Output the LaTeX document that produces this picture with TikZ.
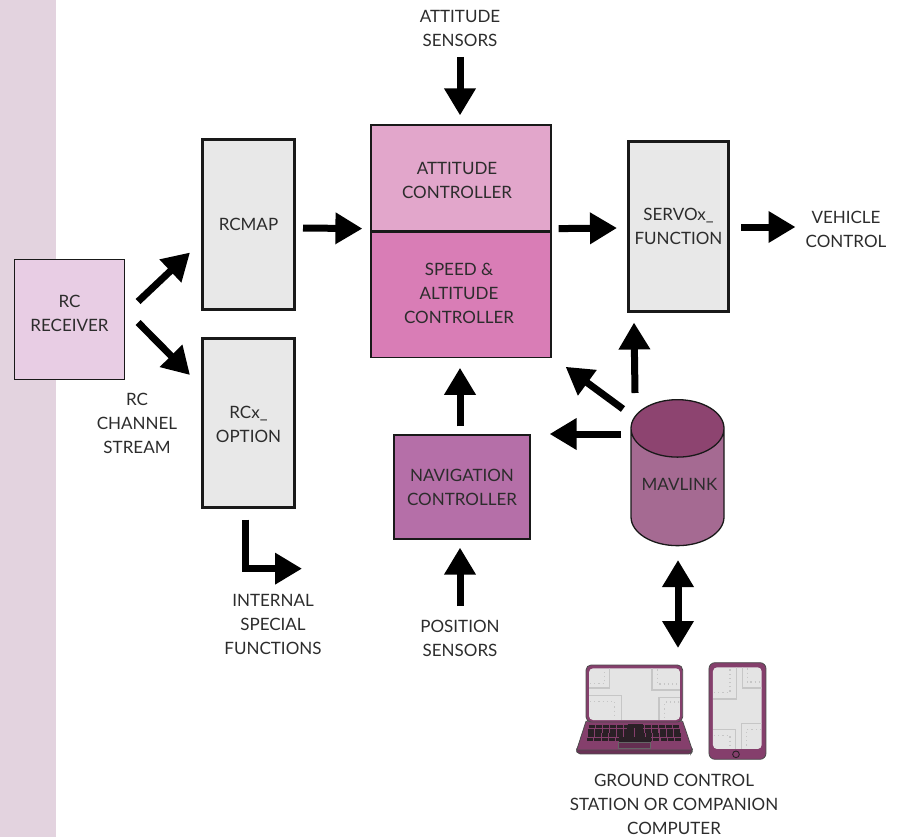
\documentclass[tikz,border=0pt]{standalone}
\usepackage{fontspec}
\setmainfont{Lato}
\usetikzlibrary{positioning,calc,arrows.meta,shapes.geometric}
\definecolor{bandpink}{HTML}{E3D3DF}
\definecolor{rcpink}{HTML}{E8CDE4}
\definecolor{boxgrey}{HTML}{E8E8E8}
\definecolor{attpink}{HTML}{E2A6CB}
\definecolor{speedpink}{HTML}{D97DB6}
\definecolor{navpurple}{HTML}{B56FA8}
\definecolor{cylbody}{HTML}{A56A92}
\definecolor{cyltop}{HTML}{8D4470}
\definecolor{devpurple}{HTML}{853F6C}
\definecolor{keydark}{HTML}{2A2026}
\definecolor{screengrey}{HTML}{E4E4E4}
\definecolor{tracegrey}{HTML}{C6C6C6}
\definecolor{labelgrey}{HTML}{2C2C2C}
\tikzset{
  lbl/.style={align=center, text=labelgrey, inner sep=0pt, font=\fontsize{17}{24}\selectfont},
  flatbox/.style={lbl, draw=black!90, line width=1.2pt},
  greybox/.style={lbl, draw=black!90, line width=3pt, fill=boxgrey, minimum width=92pt, minimum height=169pt},
  bigarrow/.style={line width=7pt, -{Triangle[length=27pt,width=30pt]}},
  bigdouble/.style={line width=7pt, {Triangle[length=27pt,width=30pt]}-{Triangle[length=27pt,width=30pt]}},
  trace/.style={draw=tracegrey, line width=1.4pt},
  tracedots/.style={draw=tracegrey, line width=1.2pt, dash pattern=on 1.2pt off 3pt},
}
\begin{document}
\begin{tikzpicture}[x=1pt,y=-1pt]
  \useasboundingbox (0,0) rectangle (901,837);
  \fill[bandpink] (0,0) rectangle (56,837);
  % boxes
  \node[flatbox, fill=rcpink, minimum width=110pt, minimum height=120pt,
    label={[lbl,yshift=6pt]center:{RC\\RECEIVER}}] (receiver) at (69.5,319.5) {};
  \node[greybox] (rcmap) at (248.5,224.5) {RCMAP};
  \node[greybox, label={[lbl,yshift=-1.5pt]center:{RCx\_\\OPTION}}] (option) at (248.5,423) {};
  \node[flatbox, fill=attpink, minimum width=180pt, minimum height=106pt,
    label={[lbl,yshift=-2pt,xshift=-4pt]center:{ATTITUDE\\CONTROLLER}}] (attitude) at (461,178) {};
  \node[flatbox, fill=speedpink, minimum width=180pt, minimum height=125pt, below=0pt of attitude,
    label={[lbl,yshift=1.5pt,xshift=-2pt]center:{SPEED \&\\ALTITUDE\\CONTROLLER}}] (speed) {};
  \node[greybox, minimum width=100pt] (servo) at (678.5,226.5) {SERVOx\_\\FUNCTION};
  \node[flatbox, fill=navpurple, minimum width=136pt, minimum height=104pt] (navigation) at (462,487) {NAVIGATION\\CONTROLLER};
  \node[cylinder, shape border rotate=90, aspect=0.76, lbl, draw=black!90, line width=1.3pt,
    cylinder uses custom fill, cylinder body fill=cylbody, cylinder end fill=cyltop,
    minimum width=93pt, minimum height=146pt, anchor=north] (mavlink) at (677.5,399) {\phantom{MAVLINK}};
  \node[lbl] (mavtext) at (679.5,484) {MAVLINK};
  % labels
  \node[lbl] (attsensors) at (460,28) {ATTITUDE\\SENSORS};
  \node[lbl] (possensors) at (460,638) {POSITION\\SENSORS};
  \node[lbl] (vehicle) at (846,229) {VEHICLE\\CONTROL};
  \node[lbl] (stream) at (137,423.5) {RC\\CHANNEL\\STREAM};
  \node[lbl] (special) at (273,624) {INTERNAL\\SPECIAL\\FUNCTIONS};
  \node[lbl] (ground) at (674,804) {GROUND CONTROL\\STATION OR COMPANION\\COMPUTER};
  \coordinate (mavup) at (635,393);
  \coordinate (mavdiag) at (623,409);
  \coordinate (mavleft) at (621,434);
  \coordinate (mavlow) at (678,560);
  % arrows
  \draw[bigarrow] ($(receiver.east)+(13,-18)$) -- ($(rcmap.west)+(-11,28)$);
  \draw[bigarrow] ($(receiver.east)+(13,3)$) -- ($(option.west)+(-11,-48)$);
  \draw[bigarrow] ($(rcmap.east)+(7,3.5)$) -- ($(attitude.south west)+(-8,-3)$);
  \draw[bigarrow] (attsensors.south |- 0,57) -- ($(attitude.north)+(-1,-9)$);
  \draw[bigarrow] ($(attitude.south east)+(7,-3)$) -- ($(servo.west)+(-10,1.5)$);
  \draw[bigarrow] ($(servo.east)+(11,0.5)$) -- ($(vehicle.west)+(-10,-2)$);
  \draw[bigarrow] (mavup) -- ($(servo.south west)+(7,10)$);
  \draw[bigarrow] (mavdiag) -- ($(speed.south east)+(14,9)$);
  \draw[bigarrow] (mavleft) -- ($(navigation.east)+(19,-53)$);
  \draw[bigarrow] ($(navigation.north)+(-2,-8)$) -- ($(speed.south)+(-1,10)$);
  \draw[bigarrow] (possensors.north |- 0,606) -- ($(navigation.south)+(-2,8)$);
  \draw[bigdouble] (mavlow) -- (678,648);
  \draw[bigarrow] ($(option.south)+(-3.5,10.5)$) |- ($(special.north)+(29,-25)$);
  % laptop and phone
  \begin{scope}[shift={(560,650)},x=0.3333pt,y=-0.3333pt]
    \filldraw[fill=devpurple!80!black, draw=black!70, line width=0.8pt] (50,296) -- (50,305) [rounded corners=2pt] -- (55,312) -- (392,312) -- (397,305) [sharp corners] -- (397,296) -- cycle;
    \filldraw[fill=devpurple, draw=black!70, line width=0.8pt] (78,214) -- (368,214) -- (397,300) -- (50,300) -- cycle;
    \filldraw[fill=devpurple, draw=black!70, line width=0.8pt, rounded corners=5pt] (78,216) rectangle (368,45);
    \fill[screengrey, rounded corners=4pt] (87,55) rectangle (360,210);
    \begin{scope}
      \clip[rounded corners=4pt] (87,55) rectangle (360,210);
      \draw[trace] (87,114) -- (148,114) -- (148,55);
      \draw[tracedots] (90,100) -- (134,100) -- (134,58);
      \draw[trace] (276,55) -- (276,120) -- (360,120);
      \draw[tracedots] (292,58) -- (292,102) -- (358,102);
      \draw[trace] (87,137) -- (184,137) -- (184,210);
      \draw[tracedots] (90,155) -- (164,155) -- (164,206);
      \draw[trace] (360,142) -- (297,142) -- (297,210);
      \draw[tracedots] (358,156) -- (314,156) -- (314,206);
    \end{scope}
    \foreach \row in {0,...,3}
      \foreach \col in {0,...,12}
        \fill[keydark] ({87-2*\row+\col*(21+0.35*\row)},{224+\row*13}) rectangle ++({18+0.3*\row},10.5);
    \fill[keydark] (205,222) rectangle (250,232);
    \fill[keydark] (200,232) rectangle (250,262);
    \fill[keydark] (178,262) rectangle (272,277);
    \draw[devpurple, line width=0.8pt] (223,234) -- (223,261);
    \filldraw[fill=devpurple!75!black, draw=black!60, line width=0.6pt] (175,277) rectangle (272,296);
    % phone
    \filldraw[fill=devpurple, draw=black!70, line width=0.8pt, rounded corners=6pt] (447,38) rectangle (618,328);
    \fill[screengrey, rounded corners=4pt] (459,52) rectangle (605,297);
    \begin{scope}
      \clip[rounded corners=4pt] (459,52) rectangle (605,297);
      \draw[trace] (459,147) -- (529,147) -- (529,52);
      \draw[tracedots] (462,127) -- (510,127) -- (510,55);
      \draw[trace] (548,52) -- (548,114) -- (605,114);
      \draw[tracedots] (562,55) -- (562,96) -- (603,96);
      \draw[trace] (459,239) -- (526,239) -- (526,297);
      \draw[tracedots] (462,257) -- (510,257) -- (510,294);
      \draw[trace] (605,221) -- (544,221) -- (544,297);
      \draw[tracedots] (603,238) -- (560,238) -- (560,294);
    \end{scope}
    \draw[keydark, line width=0.9pt] (528,313) circle (10);
  \end{scope}
\end{tikzpicture}
\end{document}
